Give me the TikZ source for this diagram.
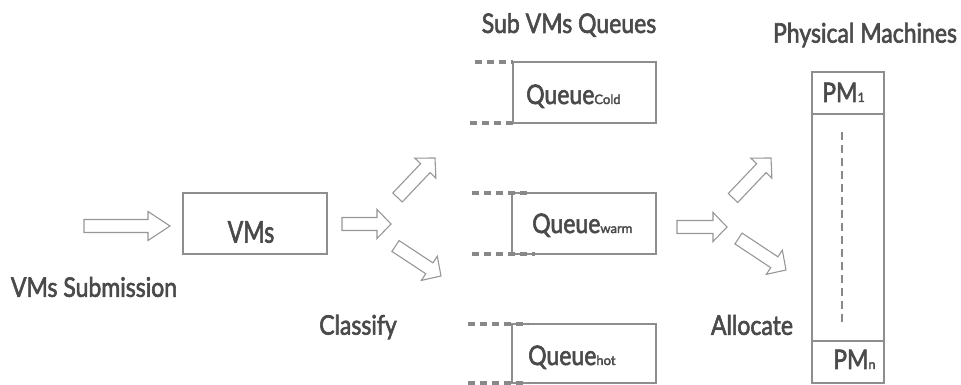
\documentclass[tikz,border=0pt]{standalone}
\usepackage{fontspec}
\usepackage{graphicx}
\setmainfont{Lato}
\newfontface\labelface[FakeBold=2.5]{Lato}
\usetikzlibrary{calc}
\definecolor{linegray}{HTML}{8E8E8E}
\definecolor{arrowgray}{HTML}{979797}
\definecolor{dashgray}{HTML}{888888}
\definecolor{textgray}{HTML}{4A4A4A}
\newcommand\tall[2][1.17]{\scalebox{1}[#1]{#2}}
\newcommand\sub[1]{{\fontsize{13}{14}\selectfont #1}}
\tikzset{
  box/.style={draw=linegray, line width=1.2pt},
  dashline/.style={draw=dashgray, line width=3.2pt, dash pattern=on 7pt off 5pt},
  sepline/.style={draw=linegray, line width=2.2pt},
  label/.style={text=textgray, inner sep=0pt, font=\labelface\fontsize{23}{26}\selectfont},
  blockarr/.style={draw=arrowgray, line width=1.1pt, fill=white, line join=miter},
}
% outlined block arrow from coordinate #2 to coordinate #3, head length #1
\newcommand\fatarrow[3][14]{%
  \path ($(#3)!#1 pt!(#2)$) coordinate (#2#3h);
  \draw[blockarr]
    ($(#2)!6.5pt!90:(#3)$)
    -- ($(#2#3h)!6.5pt!-90:(#2)$)
    -- ($(#2#3h)!14.5pt!-90:(#2)$)
    -- (#3)
    -- ($(#2#3h)!14.5pt!90:(#2)$)
    -- ($(#2#3h)!6.5pt!90:(#2)$)
    -- ($(#2)!6.5pt!-90:(#3)$)
    -- cycle;}
\begin{document}
\begin{tikzpicture}[x=1pt,y=1pt]
\useasboundingbox (0,0) rectangle (961,385);

% titles and labels
\node[label] (tq) at (569,360) {\tall{Sub VMs Queues}};
\node[label] (tp) at (865,350) {\tall{Physical Machines}};
\node[label] (lsub) at (94,98) {\tall{VMs Submission}};
\node[label] (lcls) at (358,58) {\tall{Classify}};
\node[label] (lall) at (752,60) {\tall{Allocate}};

% VMs box
\node[box, minimum width=144pt, minimum height=61pt, inner sep=0pt] (vms) at (255,161.5) {};
\node[label] (vmst) at (251,153) {\tall[1.3]{VMs}};

% queues: boxes open to the left
\draw[box] (513,323) -- (656,323) -- (656,262) -- (513,262) -- cycle;
\draw[dashline] (475,323) -- (513,323);
\draw[dashline] (470,262) -- (513,262);
\node[label, anchor=base west] (qc) at (526,281) {\tall{Queue}\sub{Cold}};

\draw[box] (512,192) -- (656,192) -- (656,131) -- (512,131) -- cycle;
\draw[dashline] (472,192) -- (528,192);
\draw[dashline] (472,131) -- (535,131);
\node[label, anchor=base west] (qw) at (532,152) {\tall{Queue}\sub{warm}};

\draw[box] (512,61) -- (656,61) -- (656,2) -- (512,2) -- cycle;
\draw[dashline] (468,61) -- (528,61);
\draw[dashline] (468,2) -- (528,2);
\node[label, anchor=base west] (qh) at (528,20) {\tall{Queue}\sub{hot}};

% physical machines column
\draw[box] (812,2) rectangle (884,313);
\draw[sepline] (812,271) -- (884,271);
\draw[sepline] (812,44) -- (884,44);
\draw[dashgray, line width=2pt, dash pattern=on 8pt off 5pt] (842,253) -- (842,60);
\node[label, anchor=base west] (pm1) at (822,283) {\tall{PM}\sub{1}};
\node[label, anchor=base west] (pmn) at (833,16) {\tall{PM}\sub{n}};

% block arrows
\coordinate (a1) at (84,159);    \coordinate (b1) at (170,159);
\coordinate (a2) at (342,161);   \coordinate (b2) at (391,161);
\coordinate (a3) at (397.5,187.5); \coordinate (b3) at (435,227);
\coordinate (a4) at (395.5,139); \coordinate (b4) at (441,109);
\coordinate (a5) at (677,158);   \coordinate (b5) at (727,158);
\coordinate (a6) at (733,187);   \coordinate (b6) at (771,227);
\coordinate (a7) at (738.5,146.5); \coordinate (b7) at (786,115);
\fatarrow[22]{a1}{b1}
\fatarrow{a2}{b2}
\fatarrow{a3}{b3}
\fatarrow{a4}{b4}
\fatarrow{a5}{b5}
\fatarrow{a6}{b6}
\fatarrow{a7}{b7}
\end{tikzpicture}
\end{document}
